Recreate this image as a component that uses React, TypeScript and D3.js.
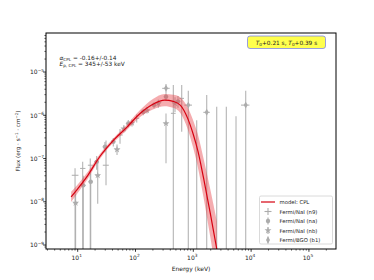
import * as d3 from "d3";

// model curve (CPL) and its 1-sigma band
const modelEnergy = [7.7, 10, 15, 24, 40, 70, 120, 200, 320, 450, 600, 800, 1000, 1200, 1500, 1950, 2550];
const modelFlux = [1.3e-8, 2.0e-8, 4.1e-8, 1.1e-7, 2.5e-7, 5.2e-7, 1.1e-6, 1.8e-6, 2.25e-6, 2.1e-6, 1.7e-6, 8.5e-7, 3.6e-7, 1.5e-7, 3.6e-8, 5.8e-9, 8e-10];
const modelLower = [0.99e-8, 1.59e-8, 3.41e-8, 0.96e-7, 2.23e-7, 4.53e-7, 0.915e-6, 1.37e-6, 1.63e-6, 1.49e-6, 1.12e-6, 4.78e-7, 1.72e-7, 6.25e-8, 1.28e-8, 1.63e-9, 1.8e-10];
const modelUpper = [1.71e-8, 2.52e-8, 4.93e-8, 1.26e-7, 2.8e-7, 5.97e-7, 1.32e-6, 2.37e-6, 3.1e-6, 2.97e-6, 2.57e-6, 1.51e-6, 7.5e-7, 3.6e-7, 1.01e-7, 2.06e-8, 3.57e-9];

// Fermi/NaI (n9)
const n9Energy = [9.0, 12.2, 16.5, 30.9, 54, 105, 451, 630];
const n9ELo = [7.9, 11.0, 15.0, 27.2, 49, 95, 410, 575];
const n9EHi = [10.3, 13.6, 18.2, 34.5, 60, 116, 495, 690];
const n9Flux = [4.1e-8, 5.9e-8, 7.0e-8, 7.0e-8, 3.5e-7, 8.5e-7, 1.11e-6, 2.46e-6];
const n9FLo = [1e-12, 1e-12, 1e-12, 2.4e-8, 2.2e-7, 6.8e-7, 1e-12, 4.15e-7];
const n9FHi = [6.0e-8, 8.4e-8, 1.0e-7, 2.6e-7, 4.8e-7, 1.05e-6, 5.0e-6, 5.0e-6];

// Fermi/NaI (na)
const naEnergy = [12.5, 16.8, 21.3, 29.6, 41.3, 75, 136, 209, 337, 543];
const naELo = [11.4, 15.3, 19.4, 27.0, 37.7, 68, 124, 190, 307, 496];
const naEHi = [13.7, 18.4, 23.4, 32.5, 45.2, 82, 149, 229, 368, 595];
const naFlux = [2.4e-8, 2.9e-8, 8.4e-8, 1.87e-7, 2.44e-7, 6.5e-7, 1.2e-6, 1.72e-6, 2.68e-6, 2.1e-6];
const naFLo = [1e-12, 1e-12, 5.5e-8, 1.4e-7, 1.9e-7, 5.3e-7, 1.0e-6, 1.45e-6, 2.2e-6, 1.5e-6];
const naFHi = [4.0e-8, 4.6e-8, 1.15e-7, 2.4e-7, 3.0e-7, 7.8e-7, 1.4e-6, 2.0e-6, 3.2e-6, 2.8e-6];

// Fermi/NaI (nb)
const nbEnergy = [9.2, 22.2, 47.9, 63, 87, 158, 248, 337, 482];
const nbELo = [8.4, 20.2, 43.7, 57.5, 79, 144, 226, 307, 440];
const nbEHi = [10.1, 24.3, 52.4, 69, 95, 173, 272, 368, 528];
const nbFlux = [9.4e-9, 4.1e-8, 1.62e-7, 4.9e-7, 6.7e-7, 1.3e-6, 1.9e-6, 6.5e-7, 1.88e-6];
const nbFLo = [1e-12, 9e-9, 1.2e-7, 4.0e-7, 5.5e-7, 1.1e-6, 1.5e-6, 7.8e-8, 1.2e-6];
const nbFHi = [1.5e-8, 9e-8, 2.1e-7, 5.9e-7, 8.0e-7, 1.55e-6, 2.3e-6, 1.1e-6, 2.6e-6];

// Fermi/BGO (b1)
const b1Energy = [337, 819, 1145, 1705, 2541, 3724, 5479, 8066];
const b1ELo = [290, 700, 1000, 1490, 2200, 3300, 4800, 6690];
const b1EHi = [390, 950, 1300, 1930, 2900, 4200, 6200, 9350];
const b1Flux = [4.2e-6, 1.72e-6, 1e-11, 1.17e-6, 1e-11, 1e-11, 1e-11, 1.72e-6];
const b1FLo = [3.2e-6, 1e-12, 1e-12, 1e-12, 1e-12, 1e-12, 1e-12, 1e-12];
const b1FHi = [5.3e-6, 3.7e-6, 7.7e-7, 2.94e-6, 1.57e-6, 1.57e-6, 9.5e-7, 3.69e-6];

const xTicks = [1e1, 1e2, 1e3, 1e4, 1e5];
const xTickExp = ["1", "2", "3", "4", "5"];
const yTicks = [1e-9, 1e-8, 1e-7, 1e-6, 1e-5];
const yTickExp = ["\u22129", "\u22128", "\u22127", "\u22126", "\u22125"];

const legendLabels = ["model: CPL", "Fermi/NaI (n9)", "Fermi/NaI (na)", "Fermi/NaI (nb)", "Fermi/BGO (b1)"];

const W = 374;
const H = 280;
const plot = { left: 46, top: 33, right: 336, bottom: 249 };
const gray = "#acacac";
const font = "DejaVu Sans, sans-serif";

const x = d3.scaleLog().domain([2.83, 2.94e5]).range([plot.left, plot.right]);
const y = d3.scaleLog().domain([8.1e-10, 8.0e-5]).range([plot.bottom, plot.top]);

type Sym = "none" | "circle" | "star" | "diamond";

function toRows(e, el, eh, f, fl, fh) {
  return e.map((v, i) => ({ e: v, el: el[i], eh: eh[i], f: f[i], fl: fl[i], fh: fh[i] }));
}

const series: { sym: Sym; rows: any[] }[] = [
  { sym: "none", rows: toRows(n9Energy, n9ELo, n9EHi, n9Flux, n9FLo, n9FHi) },
  { sym: "circle", rows: toRows(naEnergy, naELo, naEHi, naFlux, naFLo, naFHi) },
  { sym: "star", rows: toRows(nbEnergy, nbELo, nbEHi, nbFlux, nbFLo, nbFHi) },
  { sym: "diamond", rows: toRows(b1Energy, b1ELo, b1EHi, b1Flux, b1FLo, b1FHi) },
];

function marker(sym: Sym, cx: number, cy: number, key?: string) {
  if (sym === "none") return null;
  const shape =
    sym === "circle" ? d3.symbolCircle : sym === "star" ? d3.symbolStar : d3.symbolDiamond;
  const size = sym === "circle" ? 15 : sym === "star" ? 15 : 14;
  return (
    <path
      key={key}
      d={d3.symbol().type(shape).size(size)() as string}
      transform={`translate(${cx},${cy})`}
      fill={gray}
      stroke="none"
    />
  );
}

function minorTicks(lo: number, hi: number) {
  const out: number[] = [];
  for (let p = Math.floor(Math.log10(lo)); p <= Math.ceil(Math.log10(hi)); p++) {
    for (let k = 2; k < 10; k++) {
      const v = k * Math.pow(10, p);
      if (v > lo && v < hi) out.push(v);
    }
  }
  return out;
}

export default function App() {
  const modelRows = modelEnergy.map((e, i) => ({
    e,
    f: modelFlux[i],
    lo: modelLower[i],
    hi: modelUpper[i],
  }));

  const band = d3
    .area<any>()
    .x((d) => x(d.e))
    .y0((d) => y(d.lo))
    .y1((d) => y(d.hi))
    .curve(d3.curveMonotoneX);

  const line = d3
    .line<any>()
    .x((d) => x(d.e))
    .y((d) => y(d.f))
    .curve(d3.curveMonotoneX);

  const xMinor = minorTicks(x.domain()[0], x.domain()[1]);
  const yMinor = minorTicks(y.domain()[0], y.domain()[1]);

  const legendX = 259.5;
  const legendY = 196;
  const rowH = 9.5;

  return (
    <svg
      width={W}
      height={H}
      style={{ position: "absolute", left: 0, top: 0, background: "#fff" }}
      fontFamily={font}
    >
      <defs>
        <clipPath id="plot-clip">
          <rect x={plot.left} y={plot.top} width={plot.right - plot.left} height={plot.bottom - plot.top} />
        </clipPath>
      </defs>

      <g clipPath="url(#plot-clip)">
        {series.map((s, si) => (
          <g key={si}>
            {s.rows.map((d, i) => (
              <g key={i} stroke={gray} strokeWidth={1.1} strokeOpacity={0.9}>
                <line x1={x(d.e)} x2={x(d.e)} y1={y(d.fl)} y2={y(d.fh)} />
                <line x1={x(d.el)} x2={x(d.eh)} y1={y(d.f)} y2={y(d.f)} />
              </g>
            ))}
            {s.rows.map((d, i) => marker(s.sym, x(d.e), y(d.f), `m${i}`))}
          </g>
        ))}
        <path d={band(modelRows) as string} fill="#e8484e" fillOpacity={0.45} />
        <path d={line(modelRows) as string} fill="none" stroke="#d60010" strokeWidth={1.2} />
      </g>

      {/* frame */}
      <rect
        x={plot.left}
        y={plot.top}
        width={plot.right - plot.left}
        height={plot.bottom - plot.top}
        fill="none"
        stroke="#000"
        strokeWidth={1}
      />

      {/* x axis */}
      {xMinor.map((v, i) => (
        <line key={i} x1={x(v)} x2={x(v)} y1={plot.bottom} y2={plot.bottom + 1.6} stroke="#000" strokeWidth={0.6} />
      ))}
      {xTicks.map((v, i) => (
        <g key={i}>
          <line x1={x(v)} x2={x(v)} y1={plot.bottom} y2={plot.bottom + 2.8} stroke="#000" strokeWidth={0.8} />
          <text x={x(v) - 1} y={plot.bottom + 11} textAnchor="middle" fontSize={6} fill="#222">
            10
            <tspan dy={-2.6} fontSize={4.3}>
              {xTickExp[i]}
            </tspan>
          </text>
        </g>
      ))}
      <text x={(plot.left + plot.right) / 2} y={270.5} textAnchor="middle" fontSize={6} fill="#222">
        Energy (keV)
      </text>

      {/* y axis */}
      {yMinor.map((v, i) => (
        <line key={i} x1={plot.left - 1.6} x2={plot.left} y1={y(v)} y2={y(v)} stroke="#000" strokeWidth={0.6} />
      ))}
      {yTicks.map((v, i) => (
        <g key={i}>
          <line x1={plot.left - 2.8} x2={plot.left} y1={y(v)} y2={y(v)} stroke="#000" strokeWidth={0.8} />
          <text x={plot.left - 16} y={y(v) + 2.2} fontSize={6} fill="#222">
            10
            <tspan dy={-2.6} fontSize={4.3}>
              {yTickExp[i]}
            </tspan>
          </text>
        </g>
      ))}
      <text
        transform={`translate(20,${(plot.top + plot.bottom) / 2}) rotate(-90)`}
        textAnchor="middle"
        fontSize={5.6}
        fill="#222"
      >
        Flux (erg · s
        <tspan dy={-2} fontSize={4}>
          −1
        </tspan>
        <tspan dy={2}> · cm</tspan>
        <tspan dy={-2} fontSize={4}>
          −2
        </tspan>
        <tspan dy={2}>)</tspan>
      </text>

      {/* fit parameters */}
      <text x={59.5} y={59.5} fontSize={5.8} fill="#222">
        <tspan fontStyle="italic">α</tspan>
        <tspan dy={1.5} fontSize={4.2}>CPL</tspan>
        <tspan dy={-1.5}> =  -0.16+/-0.14</tspan>
      </text>
      <text x={59.5} y={65.5} fontSize={5.8} fill="#222">
        <tspan fontStyle="italic">E</tspan>
        <tspan dy={1.5} fontSize={4.2}>p, CPL</tspan>
        <tspan dy={-1.5}> = 345+/-53 keV</tspan>
      </text>

      {/* time interval */}
      <rect x={247.5} y={36} width={78} height={12.5} rx={2.5} fill="#ffff4d" stroke="#7f86e8" strokeWidth={0.8} />
      <text x={286.5} y={44.6} textAnchor="middle" fontSize={5.8} fill="#222">
        <tspan fontStyle="italic">T</tspan>
        <tspan dy={1.3} fontSize={4.2}>0</tspan>
        <tspan dy={-1.3}>+0.21 s, </tspan>
        <tspan fontStyle="italic">T</tspan>
        <tspan dy={1.3} fontSize={4.2}>0</tspan>
        <tspan dy={-1.3}>+0.39 s</tspan>
      </text>

      {/* legend */}
      <rect x={legendX} y={legendY} width={73} height={48} rx={1.5} fill="#fff" fillOpacity={0.85} stroke="#d0d0d0" strokeWidth={0.8} />
      {legendLabels.map((label, i) => {
        const cy = legendY + 6 + i * rowH;
        const hx = legendX + 8.5;
        return (
          <g key={label}>
            {i === 0 ? (
              <line x1={hx - 7} x2={hx + 7} y1={cy} y2={cy} stroke="#d60010" strokeWidth={1.2} />
            ) : (
              <g>
                <line x1={hx} x2={hx} y1={cy - 3.5} y2={cy + 3.5} stroke={gray} strokeWidth={1.1} />
                {i === 1 ? <line x1={hx - 3.5} x2={hx + 3.5} y1={cy} y2={cy} stroke={gray} strokeWidth={1.1} /> : null}
                {marker((["none", "circle", "star", "diamond"] as Sym[])[i - 1], hx, cy)}
              </g>
            )}
            <text x={legendX + 20} y={cy + 2} fontSize={5.3} fill="#222">
              {label}
            </text>
          </g>
        );
      })}
    </svg>
  );
}
